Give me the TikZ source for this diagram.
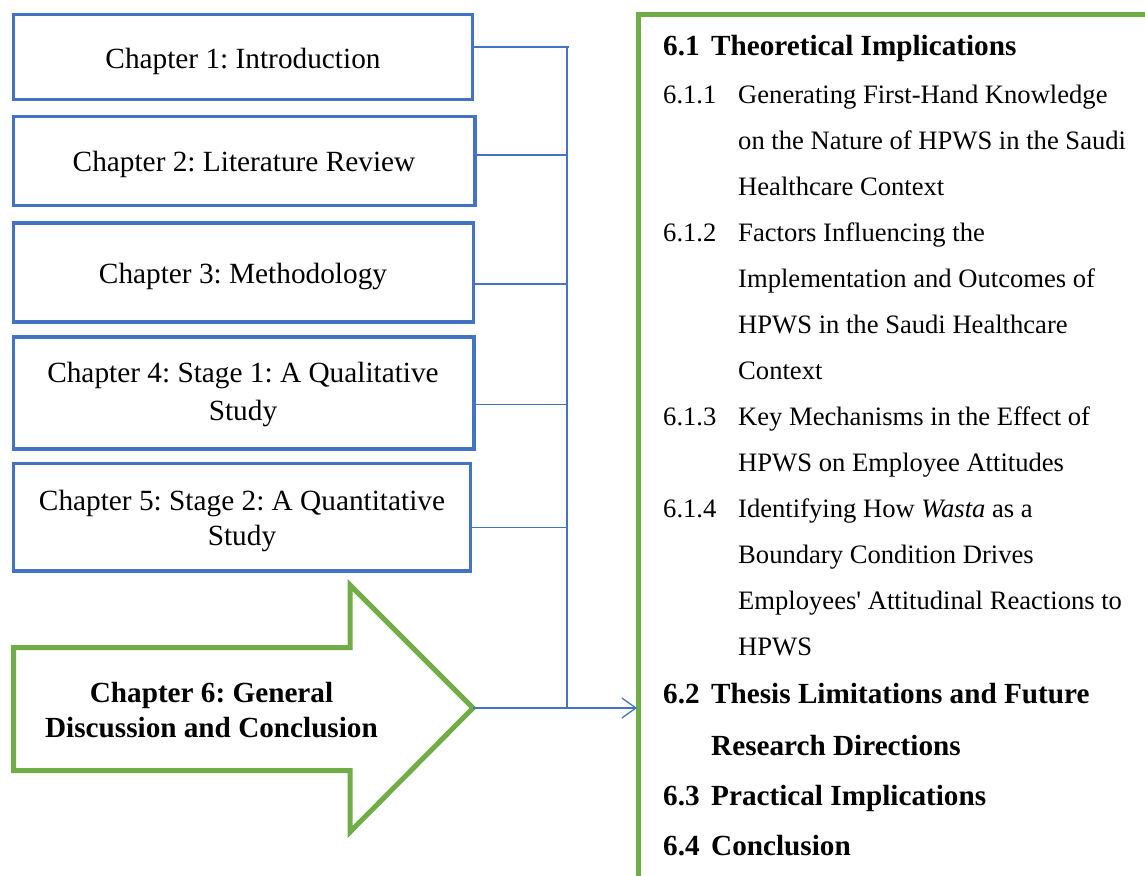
\documentclass[tikz,border=0pt]{standalone}
\usepackage{fontspec}
\setmainfont{Liberation Serif}[Ligatures={TeXOff,CommonOff}]
\usetikzlibrary{arrows.meta}
\definecolor{boxblue}{HTML}{4472C4}
\definecolor{boxgreen}{HTML}{70AD47}
\frenchspacing
\begin{document}
\begin{tikzpicture}[x=1pt,y=-1pt,
  chbox/.style={draw=boxblue, line width=3.5pt, inner sep=0pt, outer sep=0pt},
  chtext/.style={anchor=base, inner sep=0pt, font=\fontsize{29.3}{35}\selectfont},
  bigtext/.style={anchor=base, inner sep=0pt, font=\fontsize{29.2}{35}\selectfont\bfseries},
  conn/.style={draw=boxblue, line width=1.3pt},
  secbox/.style={draw=boxgreen, line width=5pt, inner sep=0pt, outer sep=0pt, anchor=north west},
  head/.style={anchor=base west, inner sep=0pt, font=\fontsize{29.2}{35}\selectfont\bfseries},
  sub/.style={anchor=base west, inner sep=0pt, font=\fontsize{26.6}{32}\selectfont}]
\clip (0,0) rectangle (1145,875);

% chapter boxes
\node[chbox, minimum width=459pt, minimum height=85pt] (ch1) at (243,57) {};
\node[chbox, minimum width=461.5pt, minimum height=89pt] (ch2) at (244.25,161) {};
\node[chbox, minimum width=460pt, minimum height=99pt] (ch3) at (243.5,272.5) {};
\node[chbox, minimum width=460.5pt, minimum height=112pt] (ch4) at (243.75,393) {};
\node[chbox, minimum width=457pt, minimum height=107.5pt] (ch5) at (242,517.25) {};

\node[chtext] (ch1t) at (243,69) {Chapter 1: Introduction};
\node[chtext] (ch2t) at (244,171) {Chapter 2: Literature Review};
\node[chtext] (ch3t) at (243,283) {Chapter 3: Methodology};
\node[chtext] (ch4a) at (243,382) {Chapter 4: Stage 1: A Qualitative};
\node[chtext] (ch4b) at (243,420) {Study};
\node[chtext] (ch5a) at (242,510) {Chapter 5: Stage 2: A Quantitative};
\node[chtext] (ch5b) at (242,545) {Study};

% block arrow for chapter 6
\coordinate (tip) at (473,708);
\draw[draw=boxgreen, line width=5pt, fill=white]
  (13.5,647.5) -- (350,647.5) -- (350,585) -- (tip) -- (350,832)
  -- (350,770.5) -- (13.5,770.5) -- cycle;
\node[bigtext] (ch6a) at (211.5,702) {Chapter 6: General};
\node[bigtext] (ch6b) at (211.5,737) {Discussion and Conclusion};

% section list frame
\node[secbox, minimum width=700pt, minimum height=1000pt] (sec) at (638,14.5) {};

% bus connectors
\coordinate (j1) at (567,47);
\coordinate (j2) at (567,155);
\coordinate (j3) at (567,284);
\coordinate (j4) at (567,404.5);
\coordinate (j5) at (567,527.5);
\coordinate (j6) at (567,708);
\draw[conn] (ch1.east |- j1) -- ([xshift=1.5pt]j1);
\draw[conn] (ch2.east |- j2) -- (j2);
\draw[conn] (ch3.east |- j3) -- (j3);
\draw[conn] (ch4.east |- j4) -- (j4);
\draw[conn] (ch5.east |- j5) -- (j5);
\draw[conn] (j1) -- (j6);
\draw[conn, -{Straight Barb[length=14pt,width=20pt,line width=1.3pt]}, shorten >=1pt] (tip) -- (tip -| sec.west);

% section contents
\node[head] (n61) at (663,56) {6.1};
\node[head] (t61) at (711,56) {Theoretical Implications};
\node[sub] (n611) at (663,103) {6.1.1};
\node[sub] (l01) at (738,103) {Generating First-Hand Knowledge};
\node[sub] (l02) at (738,149) {on the Nature of HPWS in the Saudi};
\node[sub] (l03) at (738,195) {Healthcare Context};
\node[sub] (n612) at (663,241) {6.1.2};
\node[sub] (l04) at (738,241) {Factors Influencing the};
\node[sub] (l05) at (738,287) {Implementation and Outcomes of};
\node[sub] (l06) at (738,333) {HPWS in the Saudi Healthcare};
\node[sub] (l07) at (738,379) {Context};
\node[sub] (n613) at (663,425) {6.1.3};
\node[sub] (l08) at (738,425) {Key Mechanisms in the Effect of};
\node[sub] (l09) at (738,471) {HPWS on Employee Attitudes};
\node[sub] (n614) at (663,517) {6.1.4};
\node[sub] (l10) at (738,517) {Identifying How \textit{Wasta} as a};
\node[sub] (l11) at (738,563) {Boundary Condition Drives};
\node[sub] (l12) at (738,609) {Employees' Attitudinal Reactions to};
\node[sub] (l13) at (738,655) {HPWS};
\node[head] (n62) at (663,703) {6.2};
\node[head] (t62a) at (711,703) {Thesis Limitations and Future};
\node[head] (t62b) at (711,755) {Research Directions};
\node[head] (n63) at (663,805) {6.3};
\node[head] (t63) at (711,805) {Practical Implications};
\node[head] (n64) at (663,855) {6.4};
\node[head] (t64) at (711,855) {Conclusion};
\end{tikzpicture}
\end{document}
